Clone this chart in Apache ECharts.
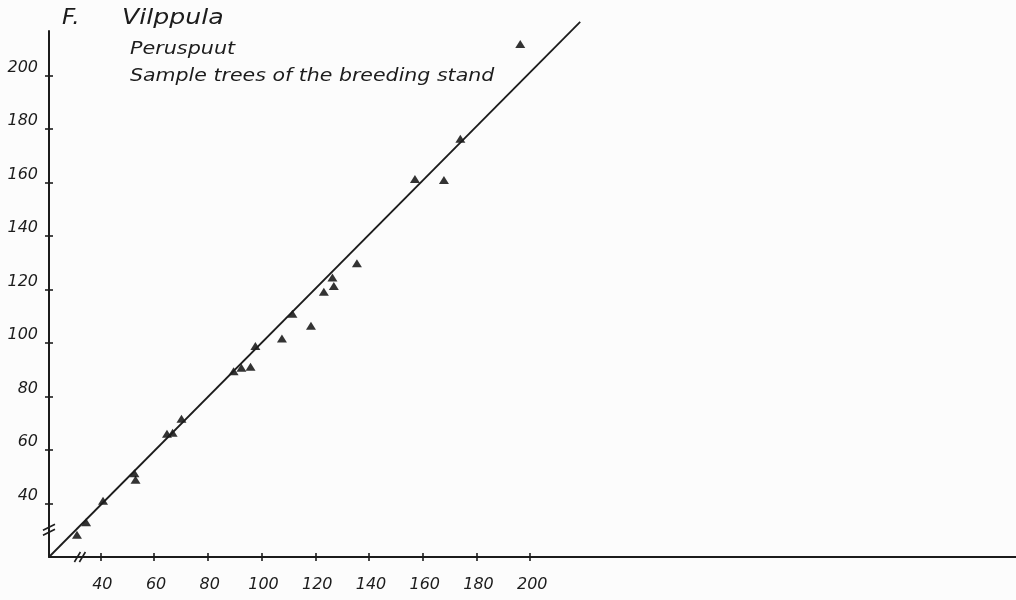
<!DOCTYPE html>
<html>
<head>
<meta charset="utf-8">
<script src="https://cdn.jsdelivr.net/npm/echarts@6/dist/echarts.min.js"></script>
<style>
html,body{margin:0;padding:0;background:#fcfcfc;}
#chart{width:1016px;height:600px;}
</style>
</head>
<body>
<div id="chart"></div>
<script>
// ---- data ----
const sampleX = [31.3, 34.7, 41.0, 52.7, 53.1, 64.8, 66.9, 70.2, 89.6, 92.5, 95.9, 97.7, 107.6, 111.5, 118.4, 123.2, 126.4, 126.9, 135.5, 157.1, 167.9, 174.0, 196.3];
const sampleY = [28.4, 33.1, 41.1, 51.4, 49.0, 66.2, 66.5, 71.8, 89.5, 90.8, 91.2, 99.0, 101.8, 111.0, 106.5, 119.2, 124.6, 121.4, 129.9, 161.4, 161.0, 176.4, 211.8];
const lineX = [20.9, 218.6];
const lineY = [20.1, 220.1];
const xTicks = [40, 60, 80, 100, 120, 140, 160, 180, 200];
const yTicks = [40, 60, 80, 100, 120, 140, 160, 180, 200];
const xRange = [20.9, 380.8];
const yRange = [20.1, 216.7];
const xBreakAt = 32.4;
const yBreakAt = 30.3;
const titleMain = ['F.', 'Vilppula'];
const subtitle1 = 'Peruspuut';
const subtitle2 = 'Sample trees of the breeding stand';

const ink = '#1c1c1c';
const fontFam = '"DejaVu Sans", sans-serif';

const chart = echarts.init(document.getElementById('chart'), null, {renderer: 'canvas'});

function xAxisDef(inside, show) {
  return {
    type: 'value', min: xRange[0], max: xRange[1], position: 'bottom',
    axisLine: {show: show, onZero: false, lineStyle: {color: ink, width: 2}},
    axisTick: {show: true, inside: inside, length: 4, customValues: xTicks, lineStyle: {color: ink, width: 1.6}},
    axisLabel: {show: show, customValues: xTicks, color: ink, fontFamily: fontFam, fontStyle: 'italic', fontSize: 16, margin: 20, padding: [0, 0, 0, 4]},
    splitLine: {show: false}
  };
}
function yAxisDef(inside, show) {
  return {
    type: 'value', min: yRange[0], max: yRange[1], position: 'left',
    axisLine: {show: show, onZero: false, lineStyle: {color: ink, width: 2}},
    axisTick: {show: true, inside: inside, length: 4, customValues: yTicks, lineStyle: {color: ink, width: 1.6}},
    axisLabel: {show: show, customValues: yTicks, color: ink, fontFamily: fontFam, fontStyle: 'italic', fontSize: 16, margin: 11, verticalAlign: 'bottom'},
    splitLine: {show: false}
  };
}

chart.setOption({
  backgroundColor: '#fcfcfc',
  animation: false,
  grid: {left: 49, right: 0, top: 31, bottom: 43, containLabel: false},
  xAxis: [xAxisDef(false, true), xAxisDef(true, false)],
  yAxis: [yAxisDef(false, true), yAxisDef(true, false)],
  series: [
    {
      type: 'line', xAxisIndex: 0, yAxisIndex: 0, clip: false,
      data: lineX.map((x, i) => [x, lineY[i]]),
      showSymbol: false, symbol: 'none',
      lineStyle: {color: ink, width: 1.8}
    },
    {
      type: 'scatter', xAxisIndex: 0, yAxisIndex: 0, clip: false,
      data: sampleX.map((x, i) => [x, sampleY[i]]),
      symbol: 'triangle', symbolSize: [10, 8],
      itemStyle: {color: '#000'}
    }
  ]
});

const xb = chart.convertToPixel({gridIndex: 0}, [xBreakAt, yRange[0]]);
const yb = chart.convertToPixel({gridIndex: 0}, [xRange[0], yBreakAt]);
const graphics = [];
[-2.5, 2.5].forEach(d => {
  graphics.push({type: 'line', shape: {x1: xb[0] + d - 3, y1: xb[1] + 5, x2: xb[0] + d + 3, y2: xb[1] - 5}, style: {stroke: ink, lineWidth: 1.6}});
  graphics.push({type: 'line', shape: {x1: yb[0] - 6, y1: yb[1] + d + 3, x2: yb[0] + 6, y2: yb[1] + d - 3}, style: {stroke: ink, lineWidth: 1.6}});
});
graphics.push({type: 'text', x: 62, y: 19, scaleX: 1.1, style: {text: titleMain[0], font: 'italic 21px ' + fontFam, fill: ink, verticalAlign: 'middle'}});
graphics.push({type: 'text', x: 122, y: 19, scaleX: 1.2, style: {text: titleMain[1], font: 'italic 21px ' + fontFam, fill: ink, verticalAlign: 'middle'}});
graphics.push({type: 'text', x: 130, y: 49, scaleX: 1.15, style: {text: subtitle1, font: 'italic 18px ' + fontFam, fill: ink, verticalAlign: 'middle'}});
graphics.push({type: 'text', x: 130, y: 76.5, scaleX: 1.14, style: {text: subtitle2, font: 'italic 18px ' + fontFam, fill: ink, verticalAlign: 'middle'}});
chart.setOption({graphic: graphics});
</script>
</body>
</html>
